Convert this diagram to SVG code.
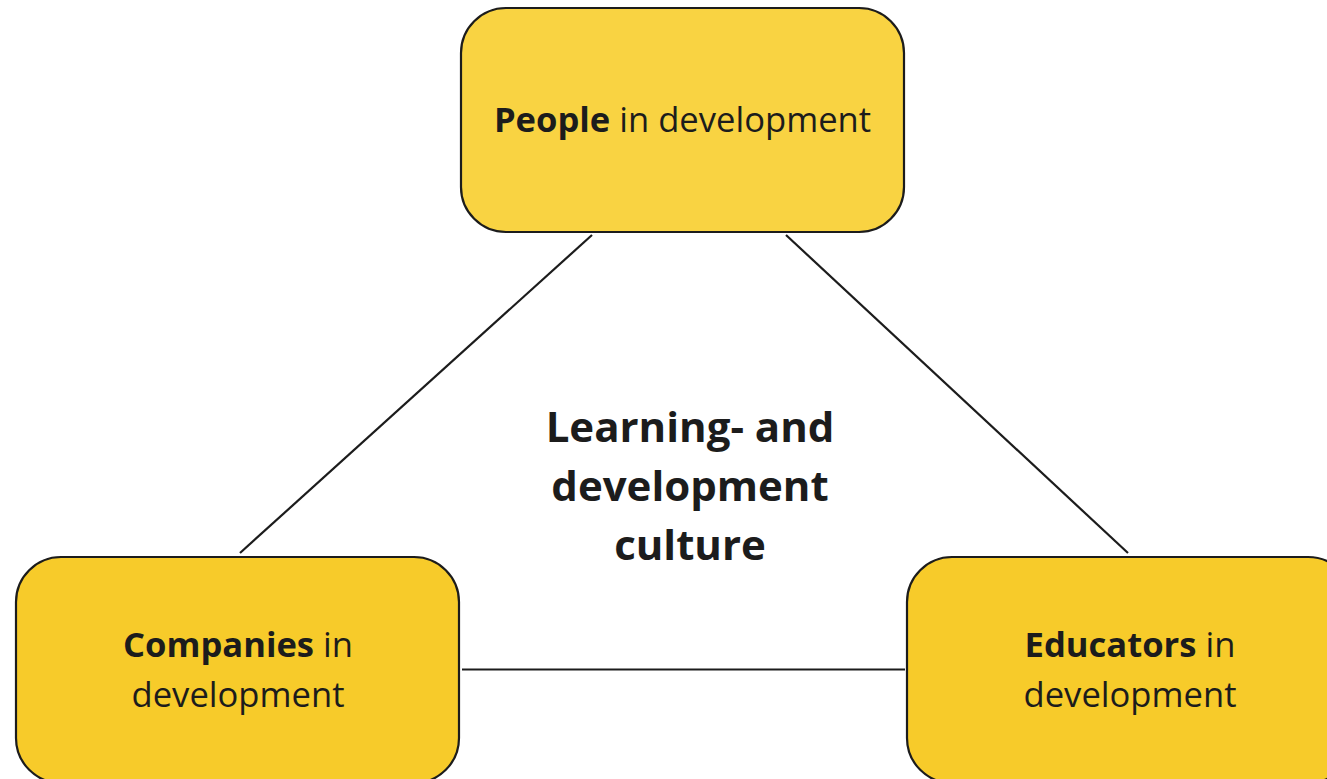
<svg xmlns="http://www.w3.org/2000/svg" width="1327" height="779" viewBox="0 0 1327 779">
<style>
.box{stroke:#1c1c1c;stroke-width:2.2}
.top{fill:#F9D342}
.bot{fill:#F7CB2A}
.lbl{font-family:"Open Sans","DejaVu Sans",sans-serif;font-size:34.6px;fill:#1c1c1c;text-anchor:middle}
.b{font-weight:700}
.ctr{font-family:"Open Sans","DejaVu Sans",sans-serif;font-size:42px;font-weight:700;fill:#1c1c1c;text-anchor:middle}
.con{stroke:#1c1c1c;stroke-width:2.2;fill:none}
</style>
<rect width="1327" height="779" fill="#ffffff"/>
<g id="connectors">
<line class="con" x1="592" y1="235" x2="240" y2="553"/>
<line class="con" x1="786" y1="235" x2="1128" y2="553"/>
<line class="con" x1="462" y1="669.5" x2="905" y2="669.5"/>
</g>
<g id="people">
<rect class="box top" x="461" y="8" width="443" height="224" rx="45" ry="45"/>
<text class="lbl" x="682.5" y="132"><tspan class="b">People</tspan> in development</text>
</g>
<g id="companies">
<rect class="box bot" x="16" y="557" width="443" height="226" rx="45" ry="45"/>
<text class="lbl" x="238" y="657"><tspan class="b">Companies</tspan> in</text>
<text class="lbl" x="238" y="707">development</text>
</g>
<g id="educators">
<rect class="box bot" x="907" y="557" width="446" height="226" rx="45" ry="45"/>
<text class="lbl" x="1130" y="657"><tspan class="b">Educators</tspan> in</text>
<text class="lbl" x="1130" y="707">development</text>
</g>
<g id="center">
<text class="ctr" x="690" y="442">Learning- and</text>
<text class="ctr" x="690" y="501">development</text>
<text class="ctr" x="690" y="560">culture</text>
</g>
</svg>
